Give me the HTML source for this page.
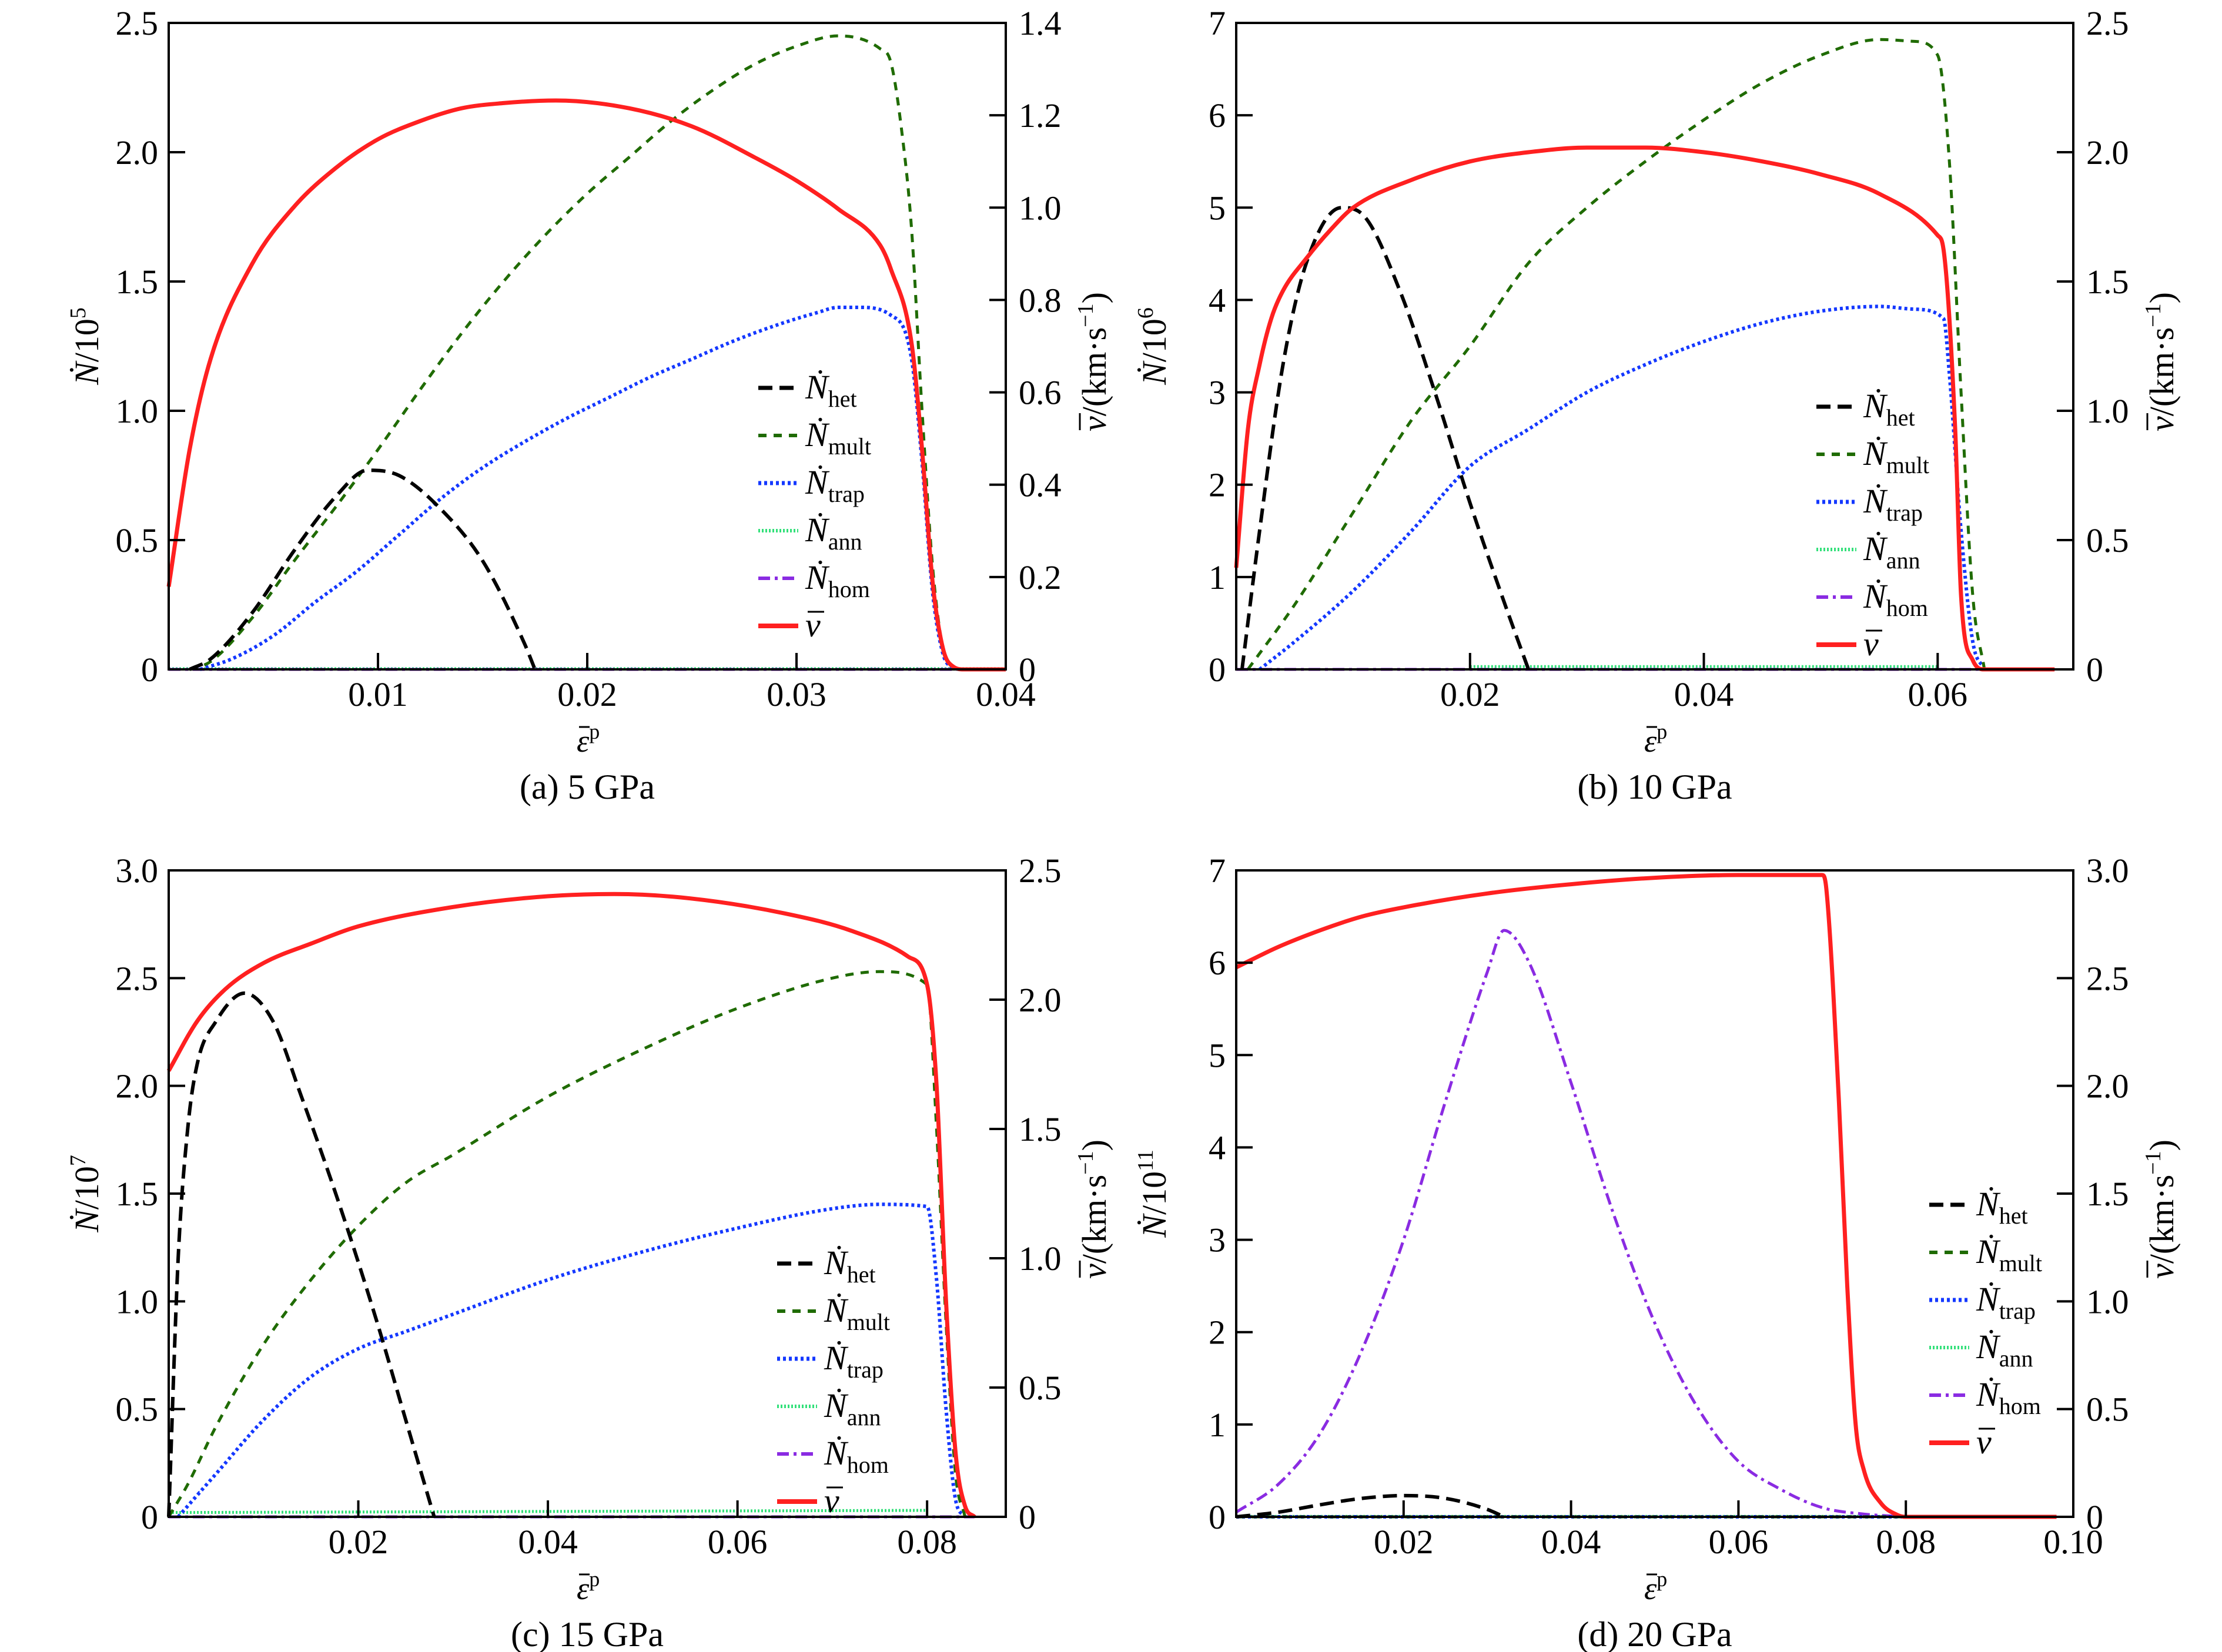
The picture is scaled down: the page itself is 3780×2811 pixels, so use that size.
<!DOCTYPE html>
<html><head><meta charset="utf-8">
<style>
html,body{margin:0;padding:0;background:#fff;}
svg{display:block;font-family:"Liberation Serif",serif;}
</style></head>
<body>
<svg id="fig" width="3780" height="2811" viewBox="0 0 3780 2811" xmlns="http://www.w3.org/2000/svg"></svg>
<script>
// ===== Panel (a) 5 GPa data =====
const aVx=[0,0.001,0.002,0.004,0.006,0.008,0.01,0.012,0.014,0.016,0.0185,0.022,0.025,0.028,0.03,0.032,0.034,0.0345,0.0355,0.036,0.0365,0.037,0.0375,0.038,0.04];
const aVn=[0.32,0.85,1.2,1.57,1.79,1.94,2.05,2.12,2.17,2.19,2.20,2.17,2.10,1.98,1.89,1.78,1.64,1.55,1.26,0.85,0.34,0.08,0.01,0,0];
const aMx=[0.001,0.002,0.004,0.006,0.008,0.01,0.012,0.014,0.016,0.018,0.02,0.022,0.024,0.026,0.028,0.03,0.032,0.034,0.0345,0.035,0.0355,0.036,0.0365,0.037,0.0375];
const aMy=[0,0.03,0.2,0.42,0.63,0.85,1.08,1.3,1.5,1.68,1.84,1.98,2.12,2.24,2.34,2.41,2.45,2.40,2.35,2.1,1.7,1.0,0.4,0.08,0];
const aTx=[0.0015,0.003,0.005,0.007,0.009,0.011,0.013,0.015,0.017,0.019,0.021,0.023,0.025,0.027,0.029,0.031,0.032,0.033,0.0345,0.0355,0.036,0.0365,0.037,0.0375];
const aTy=[0,0.04,0.13,0.26,0.38,0.52,0.66,0.78,0.88,0.97,1.05,1.13,1.2,1.27,1.33,1.38,1.40,1.40,1.37,1.2,0.8,0.3,0.06,0];
const aHx=[0.001,0.002,0.004,0.006,0.008,0.0095,0.011,0.013,0.015,0.017,0.0175];
const aHy=[0,0.04,0.22,0.46,0.67,0.77,0.75,0.62,0.42,0.10,0];
const aAx=[0,0.04];const aAy=[0.003,0.003];
const aOx=[0,0.04];const aOy=[0,0];
// ===== Panel (b) 10 GPa =====
const bVx=[0,0.001,0.002,0.003,0.004,0.006,0.008,0.01,0.015,0.02,0.025,0.03,0.035,0.04,0.045,0.05,0.055,0.06,0.0605,0.0615,0.062,0.063,0.064,0.07];
const bVn=[1.1,2.6,3.3,3.8,4.1,4.45,4.75,5.0,5.3,5.5,5.6,5.65,5.65,5.6,5.5,5.36,5.15,4.7,4.55,2.6,0.8,0.1,0,0];
const bMx=[0.001,0.005,0.01,0.015,0.02,0.025,0.03,0.035,0.04,0.045,0.05,0.055,0.058,0.06,0.061,0.062,0.063,0.064];
const bMy=[0,0.7,1.7,2.7,3.5,4.4,5.0,5.5,5.95,6.35,6.65,6.82,6.8,6.65,5.5,3.0,0.8,0];
const bTx=[0.002,0.005,0.01,0.015,0.02,0.025,0.03,0.035,0.04,0.045,0.05,0.055,0.058,0.0605,0.061,0.062,0.063,0.064];
const bTy=[0,0.3,0.85,1.5,2.2,2.6,3.0,3.3,3.55,3.75,3.88,3.93,3.9,3.8,3.2,1.5,0.3,0];
const bHx=[0.0005,0.002,0.004,0.006,0.009,0.011,0.014,0.017,0.02,0.023,0.025];
const bHy=[0,1.5,3.3,4.4,5.0,4.9,4.1,3.0,1.8,0.7,0];
const bAx=[0.02,0.06];const bAy=[0.03,0.03];
const bOx=[0,0.07];const bOy=[0,0];
// ===== Panel (c) 15 GPa =====
const cVx=[0,0.003,0.006,0.01,0.015,0.02,0.03,0.04,0.047,0.055,0.065,0.072,0.078,0.08,0.081,0.082,0.083,0.084,0.085];
const cVn=[2.07,2.3,2.45,2.57,2.66,2.74,2.83,2.88,2.89,2.87,2.8,2.72,2.6,2.47,2.0,1.0,0.3,0.05,0];
const cMx=[0,0.002,0.005,0.01,0.015,0.02,0.025,0.03,0.04,0.05,0.06,0.07,0.075,0.08,0.081,0.082,0.083,0.084];
const cMy=[0,0.15,0.42,0.8,1.1,1.35,1.55,1.68,1.95,2.17,2.36,2.5,2.53,2.47,1.8,0.9,0.2,0];
const cTx=[0.001,0.005,0.01,0.015,0.02,0.025,0.03,0.04,0.05,0.06,0.07,0.075,0.08,0.081,0.082,0.083,0.084];
const cTy=[0,0.2,0.45,0.65,0.78,0.86,0.94,1.1,1.23,1.34,1.43,1.45,1.44,1.1,0.5,0.08,0];
const cHx=[0,0.001,0.002,0.003,0.005,0.008,0.011,0.014,0.018,0.022,0.025,0.028];
const cHy=[0,1.2,1.8,2.1,2.3,2.43,2.3,1.95,1.45,0.9,0.45,0];
const cAx=[0,0.08];const cAy=[0.02,0.03];
const cOx=[0,0.085];const cOy=[0,0];
// ===== Panel (d) 20 GPa =====
const dVx=[0,0.005,0.01,0.015,0.02,0.03,0.04,0.05,0.06,0.07,0.0705,0.072,0.073,0.074,0.075,0.077,0.079,0.08,0.098];
const dVn=[5.95,6.17,6.35,6.5,6.6,6.75,6.85,6.92,6.95,6.95,6.8,4.5,2.5,1.0,0.5,0.15,0.02,0,0];
const dOx=[0,0.005,0.01,0.015,0.02,0.025,0.03,0.032,0.035,0.04,0.045,0.05,0.055,0.06,0.065,0.07,0.075,0.08];
const dOy=[0.05,0.35,0.9,1.8,3.0,4.5,5.9,6.35,6.0,4.7,3.3,2.1,1.2,0.6,0.3,0.1,0.03,0];
const dHx=[0,0.005,0.01,0.015,0.02,0.025,0.03,0.032];
const dHy=[0,0.05,0.13,0.2,0.23,0.2,0.08,0];
const dMx=[0,0.08];const dMy=[0,0];
const dTx=[0,0.08];const dTy=[0,0];
const dAx=[0,0.08];const dAy=[0.005,0.005];

const aXticks=[0.01,0.02,0.03,0.04], aXlab=["0.01","0.02","0.03","0.04"];
const aYticks=[0,0.5,1,1.5,2,2.5], aYlab=["0","0.5","1.0","1.5","2.0","2.5"];
const aRticks=[0,0.2,0.4,0.6,0.8,1.0,1.2,1.4], aRlab=["0","0.2","0.4","0.6","0.8","1.0","1.2","1.4"];
const bXticks=[0.02,0.04,0.06], bXlab=["0.02","0.04","0.06"];
const bYticks=[0,1,2,3,4,5,6,7], bYlab=["0","1","2","3","4","5","6","7"];
const bRticks=[0,0.5,1,1.5,2,2.5], bRlab=["0","0.5","1.0","1.5","2.0","2.5"];
const cXticks=[0.02,0.04,0.06,0.08], cXlab=["0.02","0.04","0.06","0.08"];
const cYticks=[0,0.5,1,1.5,2,2.5,3], cYlab=["0","0.5","1.0","1.5","2.0","2.5","3.0"];
const cRticks=[0,0.5,1,1.5,2,2.5], cRlab=["0","0.5","1.0","1.5","2.0","2.5"];
const dXticks=[0.02,0.04,0.06,0.08,0.1], dXlab=["0.02","0.04","0.06","0.08","0.10"];
const dYticks=[0,1,2,3,4,5,6,7], dYlab=["0","1","2","3","4","5","6","7"];
const dRticks=[0,0.5,1,1.5,2,2.5,3], dRlab=["0","0.5","1.0","1.5","2.0","2.5","3.0"];

const NS="http://www.w3.org/2000/svg";
const svg=document.getElementById('fig');
function mk(tag,attrs,parent){const e=document.createElementNS(NS,tag);for(const k in attrs)e.setAttribute(k,attrs[k]);(parent||svg).appendChild(e);return e;}

function monoPath(P){
 const n=P.length; if(n<3) return 'M'+P.map(p=>p[0].toFixed(1)+','+p[1].toFixed(1)).join(' L');
 const d=[],m=new Array(n);
 for(let i=0;i<n-1;i++){const dx=P[i+1][0]-P[i][0];d.push(dx===0?0:(P[i+1][1]-P[i][1])/dx);}
 m[0]=d[0];m[n-1]=d[n-2];
 for(let i=1;i<n-1;i++){m[i]=(d[i-1]*d[i]<=0)?0:(d[i-1]+d[i])/2;}
 for(let i=0;i<n-1;i++){
  if(d[i]===0){m[i]=0;m[i+1]=0;continue;}
  const a=m[i]/d[i],b=m[i+1]/d[i],s=a*a+b*b;
  if(s>9){const t=3/Math.sqrt(s);m[i]=t*a*d[i];m[i+1]=t*b*d[i];}
 }
 let s='M'+P[0][0].toFixed(1)+','+P[0][1].toFixed(1);
 for(let i=0;i<n-1;i++){
  const h=(P[i+1][0]-P[i][0])/3;
  s+=' C'+(P[i][0]+h).toFixed(1)+','+(P[i][1]+m[i]*h).toFixed(1)+' '+(P[i+1][0]-h).toFixed(1)+','+(P[i+1][1]-m[i+1]*h).toFixed(1)+' '+P[i+1][0].toFixed(1)+','+P[i+1][1].toFixed(1);
 }
 return s;
}

const panels=[
 {id:'a',L:287,R:1711,T:39,B:1139,xmax:0.04,ymax:2.5,rmax:1.4,exp:'5',cap:'(a) 5 GPa',
  V:[aVx,aVn],M:[aMx,aMy],Tr:[aTx,aTy],H:[aHx,aHy],A:[aAx,aAy],O:[aOx,aOy],
  xt:aXticks,xl:aXlab,yt:aYticks,yl:aYlab,rt:aRticks,rl:aRlab,legX:1290,legY:660},
 {id:'b',L:2103,R:3527,T:39,B:1139,xmax:0.0716,ymax:7,rmax:2.5,exp:'6',cap:'(b) 10 GPa',
  V:[bVx,bVn],M:[bMx,bMy],Tr:[bTx,bTy],H:[bHx,bHy],A:[bAx,bAy],O:[bOx,bOy],
  xt:bXticks,xl:bXlab,yt:bYticks,yl:bYlab,rt:bRticks,rl:bRlab,legX:3090,legY:692},
 {id:'c',L:287,R:1711,T:1481,B:2581,xmax:0.0883,ymax:3,rmax:2.5,exp:'7',cap:'(c) 15 GPa',
  V:[cVx,cVn],M:[cMx,cMy],Tr:[cTx,cTy],H:[cHx,cHy],A:[cAx,cAy],O:[cOx,cOy],
  xt:cXticks,xl:cXlab,yt:cYticks,yl:cYlab,rt:cRticks,rl:cRlab,legX:1322,legY:2150},
 {id:'d',L:2103,R:3527,T:1481,B:2581,xmax:0.1,ymax:7,rmax:3,exp:'11',cap:'(d) 20 GPa',
  V:[dVx,dVn],M:[dMx,dMy],Tr:[dTx,dTy],H:[dHx,dHy],A:[dAx,dAy],O:[dOx,dOy],
  xt:dXticks,xl:dXlab,yt:dYticks,yl:dYlab,rt:dRticks,rl:dRlab,legX:3282,legY:2050}
];

const styles={
 het:{c:'#000',w:6,d:'24 12'},
 mult:{c:'#1f6b00',w:5,d:'14 12'},
 trap:{c:'#1438ff',w:6,d:'5 5'},
 ann:{c:'#33e07a',w:5,d:'3 3'},
 hom:{c:'#8a2be2',w:5,d:'20 8 5 8'},
 v:{c:'#ff2020',w:7,d:''}
};

panels.forEach(p=>{
 const g=mk('g',{});
 
 
 const xs=x=>p.L+x/p.xmax*(p.R-p.L);
 const ys=y=>p.B-y/p.ymax*(p.B-p.T);
 const rs=v=>p.B-v/p.rmax*(p.B-p.T);
 function line(xa,ya,st,name,scale){
   const P=xa.map((x,i)=>[xs(x),scale(ya[i])]);
   const e=mk('path',{d:monoPath(P),fill:'none',stroke:st.c,'stroke-width':st.w,'stroke-dasharray':st.d,'stroke-linejoin':'round'},g);
   
   
 }
 line(p.A[0],p.A[1],styles.ann,'series-ann-'+p.id,ys);
 line(p.O[0],p.O[1],styles.hom,'series-hom-'+p.id,ys);
 line(p.Tr[0],p.Tr[1],styles.trap,'series-trap-'+p.id,ys);
 line(p.M[0],p.M[1],styles.mult,'series-mult-'+p.id,ys);
 line(p.H[0],p.H[1],styles.het,'series-het-'+p.id,ys);
 const vv=p.V[1].map(n=>n*p.rmax/p.ymax);
 line(p.V[0],vv,styles.v,'series-velocity-'+p.id,rs);
 const fr=mk('rect',{x:p.L,y:p.T,width:p.R-p.L,height:p.B-p.T,fill:'none',stroke:'#000','stroke-width':4},g);
 
 
 const tl=28, fs=58;
 p.xt.forEach((t,i)=>{
  const x=xs(t);
  mk('line',{x1:x,y1:p.B,x2:x,y2:p.B-tl,stroke:'#000','stroke-width':4},g);
  const tx=mk('text',{x:x,y:p.B+62,'font-size':fs,'text-anchor':'middle'},g);
  tx.textContent=p.xl[i];
  
  
 });
 p.yt.forEach((t,i)=>{
  const y=ys(t);
  mk('line',{x1:p.L,y1:y,x2:p.L+tl,y2:y,stroke:'#000','stroke-width':4},g);
  const tx=mk('text',{x:p.L-18,y:y+20,'font-size':fs,'text-anchor':'end'},g);
  tx.textContent=p.yl[i];
  
  
 });
 p.rt.forEach((t,i)=>{
  const y=rs(t);
  mk('line',{x1:p.R,y1:y,x2:p.R-tl,y2:y,stroke:'#000','stroke-width':4},g);
  const tx=mk('text',{x:p.R+22,y:y+20,'font-size':fs,'text-anchor':'start'},g);
  tx.textContent=p.rl[i];
  
  
 });
 const cy=(p.T+p.B)/2;
 const lt=mk('text',{x:0,y:0,'font-size':58,'text-anchor':'middle',transform:`translate(${p.L-120},${cy}) rotate(-90)`},g);
 lt.innerHTML='<tspan font-style="italic">Ṅ</tspan>/10<tspan dy="-22" font-size="38">'+p.exp+'</tspan>';
 
 
 const rg=mk('g',{transform:`translate(${p.R+170},${cy}) rotate(-90)`},g);
 
 
 const rtt=mk('text',{x:-145,y:0,'font-size':58,'text-anchor':'start'},rg);
 rtt.innerHTML='<tspan font-style="italic">v</tspan>/(km·s<tspan dy="-22" font-size="38">−1</tspan><tspan dy="22">)</tspan>';
 mk('line',{x1:-143,y1:-44,x2:-114,y2:-44,stroke:'#000','stroke-width':3},rg);
 const xg=mk('g',{},g);
 
 
 const cx=(p.L+p.R)/2;
 const xt=mk('text',{x:cx-18,y:p.B+140,'font-size':54,'text-anchor':'start'},xg);
 xt.innerHTML='<tspan font-style="italic">ε</tspan><tspan dy="-22" font-size="36">p</tspan>';
 mk('line',{x1:cx-14,y1:p.B+98,x2:cx+4,y2:p.B+98,stroke:'#000','stroke-width':3},xg);
 const cp=mk('text',{x:cx,y:p.B+220,'font-size':60,'text-anchor':'middle'},g);
 cp.textContent=p.cap;
 
 
 const ents=[['het','het'],['mult','mult'],['trap','trap'],['ann','ann'],['hom','hom'],['v','']];
 ents.forEach((e,i)=>{
  const y=p.legY+i*81, st=styles[e[0]];
  const lg=mk('g',{},g);
  
  
  mk('line',{x1:p.legX,y1:y,x2:p.legX+68,y2:y,stroke:st.c,'stroke-width':st.w+1,'stroke-dasharray':st.d},lg);
  const t=mk('text',{x:p.legX+80,y:y+18,'font-size':58},lg);
  if(e[0]==='v'){ t.innerHTML='<tspan font-style="italic">v</tspan>';
    mk('line',{x1:p.legX+84,y1:y-24,x2:p.legX+112,y2:y-24,stroke:'#000','stroke-width':3},lg);}
  else t.innerHTML='<tspan font-style="italic">Ṅ</tspan><tspan dy="14" font-size="40">'+e[1]+'</tspan>';
 });
});
</script>
</body></html>
